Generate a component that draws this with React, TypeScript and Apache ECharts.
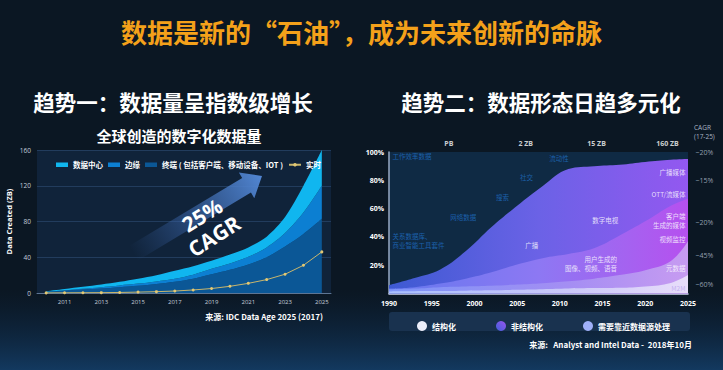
import React, { useEffect, useRef } from 'react';
import * as echarts from 'echarts';

const FONT = '"Noto Sans CJK SC", "Noto Sans", sans-serif';
const LATIN = '"Open Sans", "Noto Sans", sans-serif';

// ---------- left chart data ----------
const L_YEARS = ['2010', '2011', '2012', '2013', '2014', '2015', '2016', '2017', '2018', '2019', '2020', '2021', '2022', '2023', '2024', '2025'];
const L_DEVICE = [1.2, 2.5, 3.8, 5, 6.5, 8, 10, 12.5, 16, 21, 26, 32, 40, 52, 66, 83];
const L_EDGE = [0.3, 0.6, 1, 1.5, 2, 2.5, 3, 3.5, 4.5, 6, 7, 8.5, 11, 15, 24, 37];
const L_CORE = [0.5, 1.4, 2.2, 3, 4, 5.5, 7, 9, 9.5, 9, 10, 10.5, 12, 18, 30, 40];
const L_REALTIME = [0.1, 0.2, 0.3, 0.4, 0.6, 1, 1.5, 2.2, 3.4, 5, 7.5, 10.8, 15, 21, 31, 46];
const L_NAME_CORE = '数据中心';
const L_NAME_EDGE = '边缘';
const L_NAME_DEVICE = '终端 ( 包括客户端、移动设备、IOT )';
const L_NAME_RT = '实时';

// ---------- right chart data (upper edge of each band, % of total) ----------
const R_YEARS = [1990, 1993, 1996, 1999, 2002, 2005, 2008, 2011, 2014, 2017, 2020, 2023, 2025];
const R_EDGE_UNSTRUCT = [6, 11, 17, 30, 47, 62, 76, 88, 90, 91, 93, 94.5, 95];
const R_EDGE_UGC = [3.5, 4.5, 7, 10.5, 15, 20.5, 25, 28, 32, 41, 51, 62, 67];
const R_EDGE_META = [3.0, 3.5, 4.5, 5.0, 5.5, 6.3, 7.3, 8.7, 10.5, 13, 16.5, 23, 37];
const R_EDGE_M2M = [1.5, 1.6, 1.7, 2.0, 2.3, 2.6, 3.0, 3.5, 3.8, 4.0, 5.0, 7.5, 13];

const R_TOP_LABELS = ['PB', '2 ZB', '15 ZB', '160 ZB'];
const R_TOP_LABEL_YEARS = [1997, 2006, 2014.3, 2022.6];
const R_CAGR_LABELS = ['~20%', '~15%', '~20%', '~45%', '~60%'];
const R_CAGR_AT = [99.3, 80.2, 50.4, 27.2, 6.7];

const R_BLUE_NOTES = ['工作效率数据', '关系数据库、\n商业智能工具套件', '网络数据', '搜索', '社交', '流动性'];
const R_BLUE_AT = [[1990.4, 97.2], [1990.4, 37.2], [1998.7, 54.3], [2003.3, 68.4], [2006.1, 82], [2009.9, 96]];
const R_BLUE_ALIGN = ['left', 'left', 'center', 'center', 'center', 'center'];

const R_WHITE_NOTES = ['广播', '数字电视', '用户生成的\n图像、视频、语音', '广播媒体', 'OTT/流媒体', '客户端\n生成的媒体', '视频监控', '元数据', 'M2M'];
const R_WHITE_AT = [[2006.7, 34.3], [2015.3, 52], [2016.7, 21.3], [2024.7, 85.6], [2024.7, 70.3], [2024.7, 51.4], [2024.7, 38.3], [2024.7, 18.2], [2024.7, 4.1]];
const R_WHITE_ALIGN = ['center', 'center', 'right', 'right', 'right', 'right', 'right', 'right', 'right'];

const lg = (stops: [number, string][]) =>
  new echarts.graphic.LinearGradient(0, 0, 1, 0, stops.map(([offset, color]) => ({ offset, color })));

function arrowPoints() {
  const tip = [262, 176];
  const ang = (-31 * Math.PI) / 180;
  const d = [Math.cos(ang), Math.sin(ang)];
  const n = [-Math.sin(ang), Math.cos(ang)];
  const len = 150, headLen = 18, headW = 15, shaftW = 8.5;
  const tail = [tip[0] - d[0] * len, tip[1] - d[1] * len];
  const neck = [tip[0] - d[0] * headLen, tip[1] - d[1] * headLen];
  const p = (b: number[], k: number) => [b[0] + n[0] * k, b[1] + n[1] * k];
  return {
    pts: [p(tail, -shaftW), p(neck, -shaftW), p(neck, -headW), tip, p(neck, headW), p(neck, shaftW), p(tail, shaftW)],
    tail,
    tip,
  };
}

export default function App() {
  const ref = useRef<HTMLDivElement>(null);
  useEffect(() => {
    if (!ref.current) return;
    const chart = echarts.init(ref.current, undefined, { renderer: 'svg' });
    const arrow = arrowPoints();

    const areaSeries = (name: string, data: number[], color: string) => ({
      name,
      type: 'line',
      xAxisIndex: 0,
      yAxisIndex: 0,
      stack: 'L',
      data,
      smooth: 0.3,
      symbol: 'none',
      lineStyle: { width: 0 },
      itemStyle: { color },
      areaStyle: { color, opacity: 1 },
      z: 2,
    });

    const rBand = (name: string, data: number[], color: any, z: number) => ({
      name,
      type: 'line',
      xAxisIndex: 1,
      yAxisIndex: 1,
      data: R_YEARS.map((y, i) => [y, data[i]]),
      smooth: 0.4,
      symbol: 'none',
      lineStyle: { width: 0 },
      itemStyle: { color: '#8a6cf0' },
      areaStyle: { color, opacity: 1, origin: 'start' },
      z,
    });

    const noteSeries = (texts: string[], at: number[][], aligns: string[], color: string) => ({
      type: 'scatter',
      xAxisIndex: 1,
      yAxisIndex: 1,
      silent: true,
      clip: false,
      symbolSize: 1,
      itemStyle: { color: 'rgba(0,0,0,0)' },
      z: 10,
      data: texts.map((t, i) => ({
        name: t,
        value: at[i],
        label: { align: aligns[i], color: t === 'M2M' ? '#b9a3ee' : color },
      })),
      label: {
        show: true,
        position: 'inside',
        formatter: '{b}',
        fontSize: 6.5,
        lineHeight: 9,
        fontFamily: FONT,
      },
    });

    const option: any = {
      backgroundColor: '#0b1723',
      animation: false,
      textStyle: { fontFamily: FONT },
      grid: [
        { left: 37, top: 150, width: 294, height: 143, show: true, backgroundColor: '#10233a', borderWidth: 0 },
        { left: 389, top: 152, width: 299, height: 141.5, show: true, backgroundColor: '#0f2a44', borderWidth: 0 },
      ],
      legend: [
        {
          data: [
            { name: L_NAME_CORE, icon: 'rect' },
            { name: L_NAME_EDGE, icon: 'rect' },
            { name: L_NAME_DEVICE, icon: 'rect' },
            { name: L_NAME_RT },
          ],
          left: 51,
          top: 156,
          itemWidth: 12,
          itemHeight: 4.5,
          itemGap: 5,
          selectedMode: false,
          textStyle: { color: '#ffffff', fontSize: 7.5, fontWeight: 'bold', fontFamily: FONT },
        },
        {
          data: [
            { name: '结构化', icon: 'circle', itemStyle: { color: '#eceefa' } },
            {
              name: '非结构化',
              icon: 'circle',
              itemStyle: { color: new echarts.graphic.LinearGradient(0, 1, 1, 0, [{ offset: 0, color: '#3f5fd8' }, { offset: 1, color: '#9a55f0' }]) },
            },
            { name: '需要靠近数据源处理', icon: 'circle', itemStyle: { color: '#9fb0f8' } },
          ],
          left: 412,
          top: 316,
          itemWidth: 10,
          itemHeight: 10,
          itemGap: 40,
          selectedMode: false,
          textStyle: { color: '#ffffff', fontSize: 8, fontWeight: 'bold', fontFamily: FONT },
        },
      ],
      xAxis: [
        {
          gridIndex: 0,
          type: 'category',
          data: L_YEARS,
          boundaryGap: true,
          axisLine: { lineStyle: { color: '#5d7594', width: 1 } },
          axisTick: { show: false },
          axisLabel: { interval: (i: number) => i % 2 === 1, color: '#c5cedb', fontSize: 6, margin: 6, fontFamily: LATIN },
          splitLine: { show: false },
        },
        {
          gridIndex: 1,
          type: 'value',
          min: 1990,
          max: 2025,
          interval: 5,
          axisLine: { show: true, onZero: false, lineStyle: { color: '#cfd6ef', width: 1.5 } },
          axisTick: { show: false },
          splitLine: { show: false },
          axisLabel: { formatter: (v: number) => String(v), color: '#ffffff', fontWeight: 'bold', fontSize: 7, margin: 6, fontFamily: LATIN },
        },
      ],
      yAxis: [
        {
          gridIndex: 0,
          type: 'value',
          min: 0,
          max: 160,
          interval: 40,
          name: 'Data Created (ZB)',
          nameLocation: 'middle',
          nameGap: 24,
          nameRotate: 90,
          nameTextStyle: { color: '#ffffff', fontWeight: 'bold', fontSize: 7.5, fontFamily: LATIN },
          axisLabel: { color: '#c5cedb', fontSize: 6.5, margin: 6, fontFamily: LATIN },
          splitLine: { lineStyle: { color: 'rgba(70,110,160,0.35)' } },
          axisLine: { show: false },
          axisTick: { show: false },
        },
        {
          gridIndex: 1,
          type: 'value',
          min: 0,
          max: 100,
          interval: 20,
          axisLine: { show: true, lineStyle: { color: '#9aabc6', width: 1.5 } },
          axisTick: { show: false },
          splitLine: { show: false },
          axisLabel: {
            formatter: (v: number) => (v === 0 ? '' : v + '%'),
            color: '#ffffff',
            fontWeight: 'bold',
            fontSize: 7,
            margin: 5,
            fontFamily: LATIN,
          },
        },
      ],
      series: [
        areaSeries(L_NAME_DEVICE, L_DEVICE, '#0b5796'),
        areaSeries(L_NAME_EDGE, L_EDGE, '#0c7fd2'),
        areaSeries(L_NAME_CORE, L_CORE, '#10b6ef'),
        {
          name: L_NAME_RT,
          type: 'line',
          xAxisIndex: 0,
          yAxisIndex: 0,
          data: L_REALTIME,
          symbol: 'circle',
          symbolSize: 3,
          showSymbol: true,
          lineStyle: { color: '#c9b66d', width: 1 },
          itemStyle: { color: '#e3c873' },
          z: 5,
        },
        rBand('非结构化', R_EDGE_UNSTRUCT, lg([[0, '#3d5ad2'], [0.5, '#6b62e6'], [1, '#9358f0']]), 2),
        rBand('用户生成', R_EDGE_UGC, lg([[0, '#6478ee'], [0.5, '#8d78f3'], [0.8, '#a562f0'], [1, '#b650ef']]), 3),
        rBand('需要靠近数据源处理', R_EDGE_META, lg([[0, '#7d95f7'], [0.6, '#a48ef3'], [1, '#c79bf1']]), 4),
        rBand('结构化', R_EDGE_M2M, lg([[0, '#a9c0ff'], [0.6, '#cbc8f8'], [1, '#e8ddfa']]), 5),
        noteSeries(R_BLUE_NOTES, R_BLUE_AT, R_BLUE_ALIGN, '#1f6fc4'),
        noteSeries(R_WHITE_NOTES, R_WHITE_AT, R_WHITE_ALIGN, '#ffffff'),
        {
          type: 'scatter',
          xAxisIndex: 1,
          yAxisIndex: 1,
          silent: true,
          clip: false,
          symbolSize: 1,
          itemStyle: { color: 'rgba(0,0,0,0)' },
          data: R_TOP_LABELS.map((t, i) => ({ name: t, value: [R_TOP_LABEL_YEARS[i], 100] })),
          label: { show: true, position: 'top', distance: 5, formatter: '{b}', color: '#ffffff', fontWeight: 'bold', fontSize: 7, fontFamily: LATIN },
        },
        {
          type: 'scatter',
          xAxisIndex: 1,
          yAxisIndex: 1,
          silent: true,
          clip: false,
          symbolSize: 1,
          itemStyle: { color: 'rgba(0,0,0,0)' },
          data: R_CAGR_LABELS.map((t, i) => ({ name: t, value: [2025, R_CAGR_AT[i]] })),
          label: { show: true, position: 'right', distance: 7, formatter: '{b}', color: '#b8c2d2', fontSize: 7, fontFamily: LATIN },
        },
      ],
      graphic: [
        {
          type: 'rect',
          shape: { x: 0, y: 290, width: 723, height: 80 },
          style: {
            fill: new echarts.graphic.LinearGradient(0, 0, 0, 1, [
              { offset: 0, color: 'rgba(15,50,90,0)' },
              { offset: 1, color: 'rgba(25,85,145,0.55)' },
            ]),
          },
          silent: true,
          z: -10,
        },
        {
          type: 'rect',
          shape: { x: 389, y: 312, width: 301, height: 19, r: 3 },
          style: { fill: '#19324f' },
          silent: true,
          z: 1,
        },
        {
          type: 'text',
          x: 361.5,
          y: 31,
          style: { text: '数据是新的“石油”，成为未来创新的命脉', fill: '#f4a11a', fontSize: 26, fontWeight: 'bold', fontFamily: FONT, align: 'center', verticalAlign: 'middle' },
        },
        {
          type: 'text',
          x: 173,
          y: 101,
          style: { text: '趋势一：数据量呈指数级增长', fill: '#ffffff', fontSize: 21.5, fontWeight: 'bold', fontFamily: FONT, align: 'center', verticalAlign: 'middle' },
        },
        {
          type: 'text',
          x: 541,
          y: 101,
          style: { text: '趋势二：数据形态日趋多元化', fill: '#ffffff', fontSize: 21.5, fontWeight: 'bold', fontFamily: FONT, align: 'center', verticalAlign: 'middle' },
        },
        {
          type: 'text',
          x: 179,
          y: 135,
          style: { text: '全球创造的数字化数据量', fill: '#ffffff', fontSize: 15, fontWeight: 'bold', fontFamily: FONT, align: 'center', verticalAlign: 'middle' },
        },
        {
          type: 'text',
          x: 323,
          y: 316,
          style: { text: '来源: IDC Data Age 2025 (2017)', fill: '#ffffff', fontSize: 8, fontWeight: 'bold', fontFamily: FONT, align: 'right', verticalAlign: 'middle' },
        },
        {
          type: 'text',
          x: 692,
          y: 344,
          style: { text: '来源:   Analyst and Intel Data -  2018年10月', fill: '#ffffff', fontSize: 8, fontWeight: 'bold', fontFamily: FONT, align: 'right', verticalAlign: 'middle' },
        },
        {
          type: 'text',
          x: 694,
          y: 132,
          style: { text: 'CAGR\n(17-25)', fill: '#aab4c4', fontSize: 6.5, lineHeight: 8.5, fontFamily: LATIN, align: 'left', verticalAlign: 'middle' },
        },
        {
          type: 'polygon',
          shape: { points: arrow.pts },
          style: {
            fill: new echarts.graphic.LinearGradient(arrow.tail[0], arrow.tail[1], arrow.tip[0], arrow.tip[1], [
              { offset: 0, color: 'rgba(55,95,160,0)' },
              { offset: 0.35, color: 'rgba(58,100,168,0.45)' },
              { offset: 1, color: 'rgba(82,135,212,1)' },
            ], true),
          },
          silent: true,
          z: 3,
        },
        {
          type: 'text',
          x: 202,
          y: 215,
          rotation: 0.56,
          style: { text: '25%', fill: '#ffffff', fontSize: 21, fontWeight: 'bold', fontFamily: LATIN, align: 'center', verticalAlign: 'middle' },
          z: 20,
        },
        {
          type: 'text',
          x: 214,
          y: 236,
          rotation: 0.56,
          style: { text: 'CAGR', fill: '#ffffff', fontSize: 21, fontWeight: 'bold', fontFamily: LATIN, align: 'center', verticalAlign: 'middle' },
          z: 20,
        },
      ],
    };
    chart.setOption(option);
    return () => chart.dispose();
  }, []);
  return <div ref={ref} style={{ position: 'fixed', left: 0, top: 0, width: 723, height: 370 }} />;
}
